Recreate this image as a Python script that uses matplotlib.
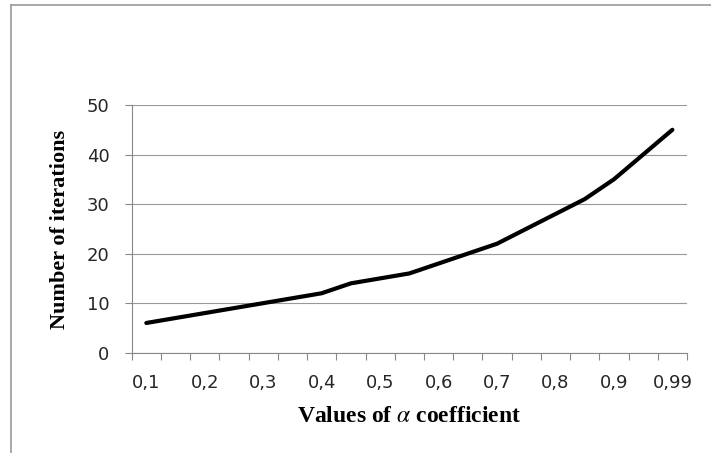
import matplotlib
matplotlib.use("Agg")
import matplotlib.pyplot as plt
from matplotlib.lines import Line2D

# data
alpha = ["0,1", "0,15", "0,2", "0,25", "0,3", "0,35", "0,4", "0,45", "0,5", "0,55",
         "0,6", "0,65", "0,7", "0,75", "0,8", "0,85", "0,9", "0,95", "0,99"]
iterations = [6, 7, 8, 9, 10, 11, 12, 14, 15, 16, 18, 20, 22, 25, 28, 31, 35, 40, 45]
y_ticks = [0, 10, 20, 30, 40, 50]

plt.rcParams["mathtext.fontset"] = "stix"

W, H = 711, 453
fig = plt.figure(figsize=(W / 100, H / 100), dpi=100)
ax = fig.add_axes([131.7 / W, 1 - 352.7 / H, (687 - 131.7) / W, (352.7 - 105) / H])

x = list(range(len(alpha)))
ax.plot(x, iterations, color="black", lw=3, solid_joinstyle="round", solid_capstyle="round", zorder=3)

ax.set_xlim(-0.5, len(alpha) - 0.5)
ax.set_ylim(0, 50)

# labels every other category, tick marks between categories
ax.set_xticks(x[::2])
ax.set_xticklabels(alpha[::2])
ax.set_xticks([i - 0.5 for i in range(len(alpha) + 1)], minor=True)
ax.tick_params(axis="x", which="major", length=0, pad=15, labelsize=13, labelcolor="#262626")
ax.tick_params(axis="x", which="minor", length=5, width=0.8, color="#888888", direction="out")

ax.set_yticks(y_ticks)
ax.tick_params(axis="y", length=5, width=0.8, color="#888888", pad=11, labelsize=13, labelcolor="#262626")

ax.grid(axis="y", color="#999999", lw=0.8)
ax.set_axisbelow(True)
for s in ["top", "right"]:
    ax.spines[s].set_visible(False)
for s in ["left", "bottom"]:
    ax.spines[s].set_color("#888888")
    ax.spines[s].set_linewidth(0.8)

fig.text(409 / W, 1 - 416 / H, r"Values of $\alpha$ coefficient", ha="center", va="center",
         family="Liberation Serif", weight="bold", fontsize=17)
fig.text(60 / W, 1 - 229 / H, "Number of iterations", ha="center", va="center", rotation=90,
         family="Liberation Serif", weight="bold", fontsize=16)

# outer frame of the pasted chart
fig.add_artist(Line2D([11 / W, 11 / W], [0, 1 - 4.5 / H], color="#999999", lw=1.2))
fig.add_artist(Line2D([11 / W, 1], [1 - 4.5 / H, 1 - 4.5 / H], color="#999999", lw=1.2))

fig.savefig("out.png", dpi=100)
